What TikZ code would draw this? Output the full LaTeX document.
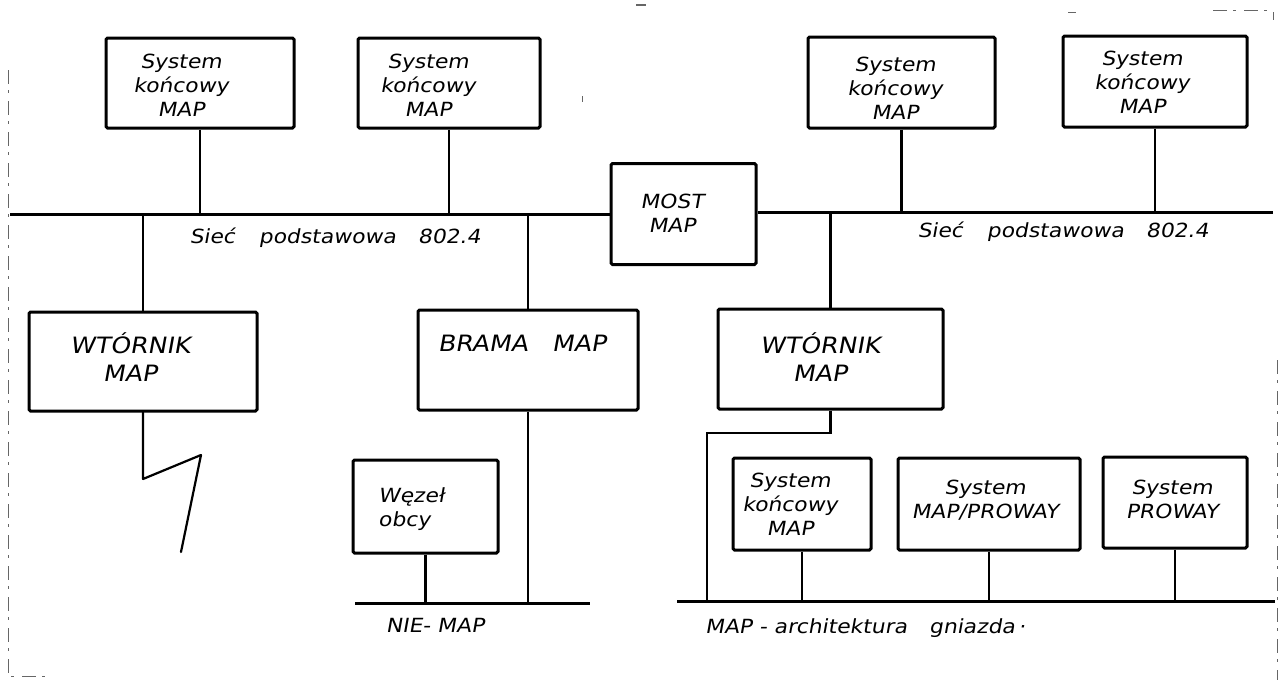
\documentclass[tikz,border=0pt]{standalone}
\usepackage{fontspec}
\newfontfamily\hand{DejaVu Sans}[FakeStretch=1.12,FakeSlant=0.18]
\begin{document}
\begin{tikzpicture}[x=1pt,y=-1pt,
  box/.style 2 args={draw,line width=3pt,rounded corners=1.5pt,minimum width=#1pt,minimum height=#2pt,inner sep=0pt},
  lbl/.style={font=\hand\fontsize{19.5}{24}\selectfont,align=center,inner sep=0pt},
  lblbig/.style={font=\hand\fontsize{22.5}{28}\selectfont,align=center,inner sep=0pt},
  link/.style={line width=2.2pt},
  bus/.style={line width=3pt},
  scan/.style={black!60,line width=0.8pt,dash pattern=on 14pt off 6pt on 3pt off 8pt}]
\useasboundingbox (0,0) rectangle (1280,683);

% bus end points
\coordinate (busL) at (10,214);
\coordinate (busR) at (1273,212);
\coordinate (nieL) at (355,603);
\coordinate (nieR) at (590,603);
\coordinate (mapL) at (677,601);
\coordinate (mapR) at (1275,601);

% boxes
\node[box={188}{90}] (s1) at (200,83) {};
\node[box={182}{90}] (s2) at (449,83) {};
\node[box={187}{91}] (s3) at (901.5,82.5) {};
\node[box={184}{91}] (s4) at (1155,81.5) {};
\node[box={145}{101}] (most) at (683.5,214) {};
\node[box={228}{99}] (wt1) at (143,361.5) {};
\node[box={220}{100}] (brama) at (528,360) {};
\node[box={145}{93}] (wezel) at (425.5,506.5) {};
\node[box={225}{100}] (wt2) at (830.5,359) {};
\node[box={138}{92}] (sk) at (802,504) {};
\node[box={182}{92}] (mp) at (989,504) {};
\node[box={144}{91}] (pw) at (1175,502.5) {};

% labels
\node[lbl] (t1) at (181,85) {System\\końcowy\\MAP};
\node[lbl] (t2) at (428,85) {System\\końcowy\\MAP};
\node[lbl] (t3) at (895,88) {System\\końcowy\\MAP};
\node[lbl] (t4) at (1142,82) {System\\końcowy\\MAP};
\node[lbl] (tmost) at (672,213) {MOST\\MAP};
\node[lblbig] (twt1) at (130,357) {WTÓRNIK\\MAP};
\node[lblbig] (tbrama) at (522,343) {BRAMA\hspace{24pt}MAP};
\node[lbl,anchor=west,align=left] (twezel) at (378,509) {Węzeł\\obcy};
\node[lblbig] (twt2) at (820,357) {WTÓRNIK\\MAP};
\node[lbl] (tsk) at (790,504) {System\\końcowy\\MAP};
\node[lbl] (tmp) at (985,500) {System\\MAP/PROWAY};
\node[lbl] (tpw) at (1172,499) {System\\PROWAY};
\node[lbl] (siecL) at (335,238) {Sieć\hspace{24pt}podstawowa\hspace{22pt}802.4};
\node[lbl] (siecR) at (1063,232) {Sieć\hspace{24pt}podstawowa\hspace{22pt}802.4};
\node[lbl] (nie) at (435,625) {NIE- MAP};
\node[lbl,anchor=west] (arch) at (705,628) {MAP - architektura\hspace{22pt}gniazda\,·};

% main bus
\draw[bus] (busL) -- (most.west |- busL);
\draw[bus] (most.east |- busR) -- (busR);
\draw[link] (s1.south) -- (s1.south |- busL);
\draw[link] (s2.south) -- (s2.south |- busL);
\draw[link] (s3.south) -- (s3.south |- busR);
\draw[link] (s4.south) -- (s4.south |- busR);
\draw[link] (wt1.north) -- (wt1.north |- busL);
\draw[link] (brama.north) -- (brama.north |- busL);
\draw[link] (wt2.north) -- (wt2.north |- busR);

% radio link
\coordinate (z1) at (143,479);
\coordinate (z2) at (201,455);
\coordinate (z3) at (181,552);
\draw[link,line join=round,line cap=round] (wt1.south) -- (z1) -- (z2) -- (z3);

% NIE-MAP
\draw[bus] (nieL) -- (nieR);
\draw[link] (brama.south) -- (brama.south |- nieL);
\draw[link] (wezel.south) -- (wezel.south |- nieL);

% MAP cell
\coordinate (kink) at (707,433);
\coordinate (tap) at (707,601);
\draw[bus] (mapL) -- (mapR);
\draw[link] (wt2.south) |- (kink) -- (tap);
\draw[link] (sk.south) -- (sk.south |- mapL);
\draw[link] (mp.south) -- (mp.south |- mapL);
\draw[link] (pw.south) -- (pw.south |- mapL);

% scan edge marks
\draw[scan] (8,70) -- (8,676) -- (50,676);
\draw[scan] (1277,360) -- (1277,680);
\draw[scan] (1213,10) -- (1273,10) -- (1273,20);
\draw[black!60,line width=1pt] (1068,12) -- (1076,12);
\draw[black!60,line width=1.2pt] (636,5) -- (646,5);
\draw[black!60,line width=1pt] (582,96) -- (582,102);
\end{tikzpicture}
\end{document}
